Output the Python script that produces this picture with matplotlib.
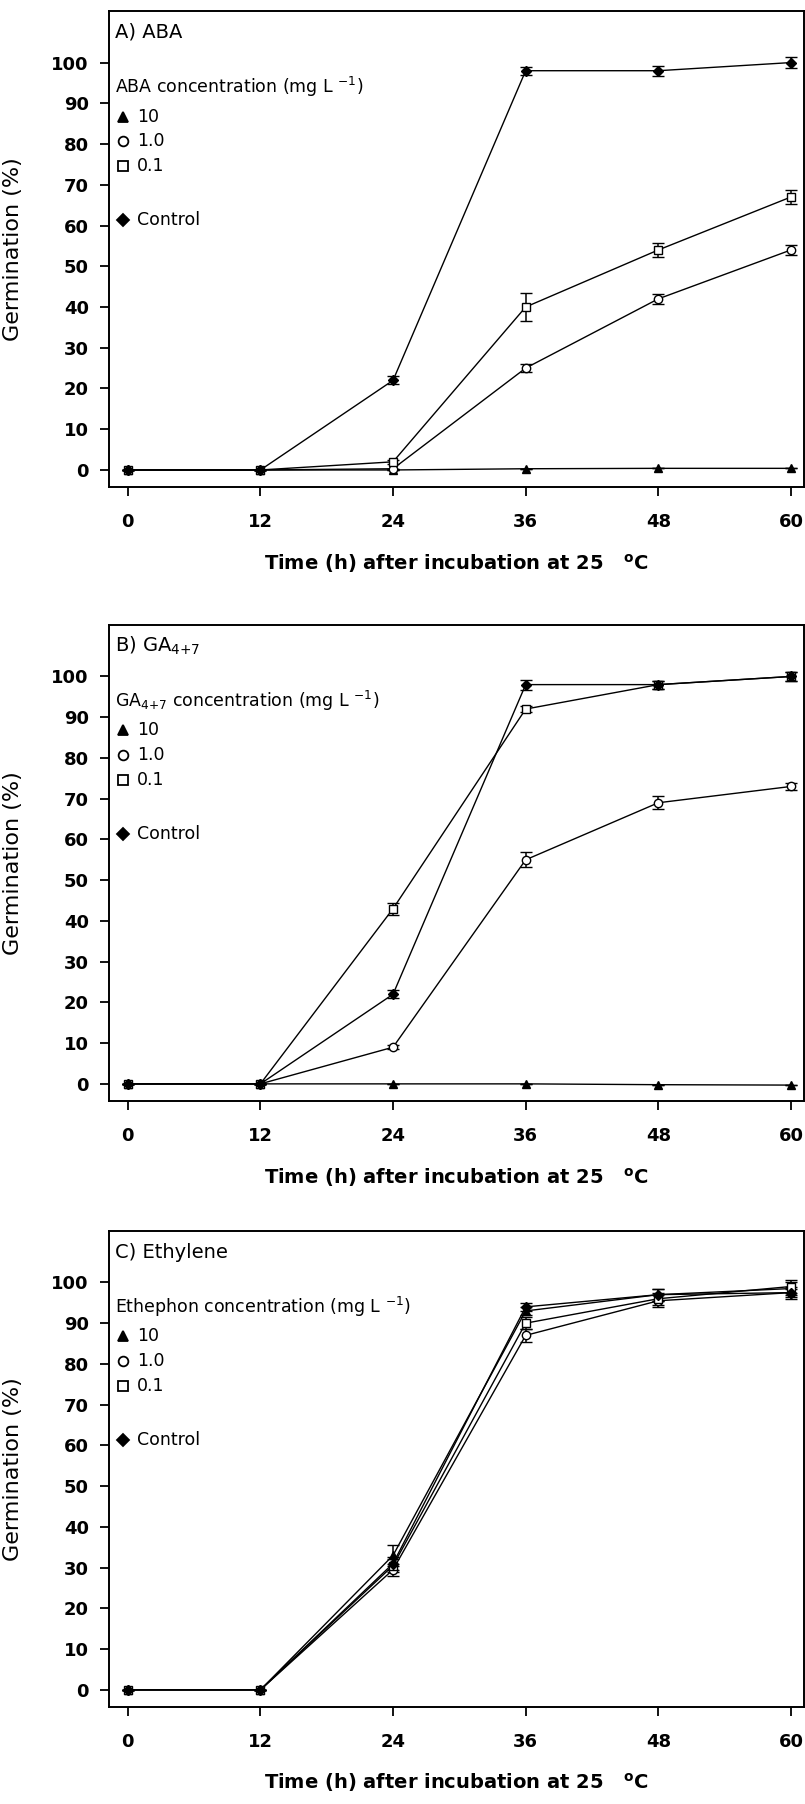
import matplotlib
matplotlib.use("Agg")
import matplotlib.pyplot as plt

hours = [0, 12, 24, 36, 48, 60]

# A) ABA
aba_control = [0, 0, 22, 98, 98, 100]
aba_control_err = [0, 0, 1, 1, 1.2, 1.3]
aba_10 = [0, 0, 0, 0.3, 0.4, 0.4]
aba_10_err = [0, 0, 0, 0, 0, 0]
aba_1 = [0, 0, 0.3, 25, 42, 54]
aba_1_err = [0, 0, 0, 1, 1.2, 1.3]
aba_01 = [0, 0, 2, 40, 54, 67]
aba_01_err = [0, 0, 0.5, 3.5, 1.7, 1.8]

# B) GA4+7
ga_control = [0, 0, 22, 98, 98, 100]
ga_control_err = [0, 0, 1, 1.2, 1, 1]
ga_10 = [0, 0, 0, 0, -0.2, -0.3]
ga_10_err = [0, 0, 0, 0, 0, 0]
ga_1 = [0, 0, 9, 55, 69, 73]
ga_1_err = [0, 0, 0.5, 1.8, 1.6, 0.8]
ga_01 = [0, 0, 43, 92, 98, 100]
ga_01_err = [0, 0, 1.5, 0.8, 1, 1]

# C) Ethylene (ethephon)
eth_control = [0, 0, 31, 94, 97, 97.5]
eth_control_err = [0, 0, 1.5, 1, 1.5, 1.5]
eth_10 = [0, 0, 33, 93, 97, 98.5]
eth_10_err = [0, 0, 2.5, 1, 1.5, 1.5]
eth_1 = [0, 0, 29.5, 87, 95.5, 97.5]
eth_1_err = [0, 0, 1.5, 1.5, 1.5, 1]
eth_01 = [0, 0, 30.5, 90, 96, 99]
eth_01_err = [0, 0, 1.5, 1.5, 1.5, 1.5]

panels = [
    ("A) ABA", "ABA", [(aba_10, aba_10_err), (aba_1, aba_1_err), (aba_01, aba_01_err), (aba_control, aba_control_err)]),
    (r"B) GA$_{4{+}7}$", r"GA$_{4{+}7}$", [(ga_10, ga_10_err), (ga_1, ga_1_err), (ga_01, ga_01_err), (ga_control, ga_control_err)]),
    ("C) Ethylene", "Ethephon", [(eth_10, eth_10_err), (eth_1, eth_1_err), (eth_01, eth_01_err), (eth_control, eth_control_err)]),
]

legend_labels = ["10", "1.0", "0.1", "Control"]
markers = ["^", "o", "s", "D"]
faces = ["black", "white", "white", "black"]
legend_y = [0.778, 0.727, 0.674, 0.56]

plt.rcParams['font.family'] = ['DejaVu Sans']
plt.rcParams['mathtext.default'] = 'regular'

fig = plt.figure(figsize=(8.05, 18.04), dpi=100)
bottoms = [0.730, 0.3897, 0.0538]
for (title, agent, series), bottom in zip(panels, bottoms):
    ax = fig.add_axes([0.1354, bottom, 0.8636, 0.264])
    for (vals, errs), m, fc in zip(series, markers, faces):
        ms = 5.5 if m == "D" else 6
        ax.errorbar(hours, vals, yerr=errs, color="black", lw=1.0, marker=m,
                    markersize=ms, markerfacecolor=fc, markeredgecolor="black",
                    markeredgewidth=1.0, capsize=4, elinewidth=1.1, capthick=1.2)
    ax.set_xlim(-1.7, 61.2)
    ax.set_ylim(-4.2, 112.7)
    ax.set_xticks(hours)
    ax.set_yticks(range(0, 101, 10))
    for lab in ax.get_xticklabels() + ax.get_yticklabels():
        lab.set_fontweight("bold")
    ax.tick_params(axis="y", length=6.5, width=1.3, pad=8, labelsize=13)
    ax.tick_params(axis="x", length=6.5, width=1.3, pad=12, labelsize=13)
    for sp in ax.spines.values():
        sp.set_linewidth(1.4)
    ax.set_ylabel("Germination (%)", fontsize=16)
    ax.yaxis.set_label_coords(-0.124, 0.5)
    ax.set_xlabel(r"Time (h) after incubation at 25   $^{\mathbf{o}}$C",
                  fontsize=14, fontweight="bold", labelpad=15)

    ax.text(0.009, 0.955, title, transform=ax.transAxes, fontsize=14, va="center")
    ax.text(0.009, 0.84, agent + r" concentration (mg L $^{-1}$)",
            transform=ax.transAxes, fontsize=12.5, va="center")
    for lab, m, fc, y in zip(legend_labels, markers, faces, legend_y):
        ax.plot([0.020], [y], transform=ax.transAxes, marker=m, markersize=7 if m != "D" else 6,
                markerfacecolor=fc, markeredgecolor="black", markeredgewidth=1.3,
                linestyle="None", clip_on=False)
        ax.text(0.040, y, lab, transform=ax.transAxes, fontsize=12.5, va="center")

fig.savefig("out.png", dpi=100)
